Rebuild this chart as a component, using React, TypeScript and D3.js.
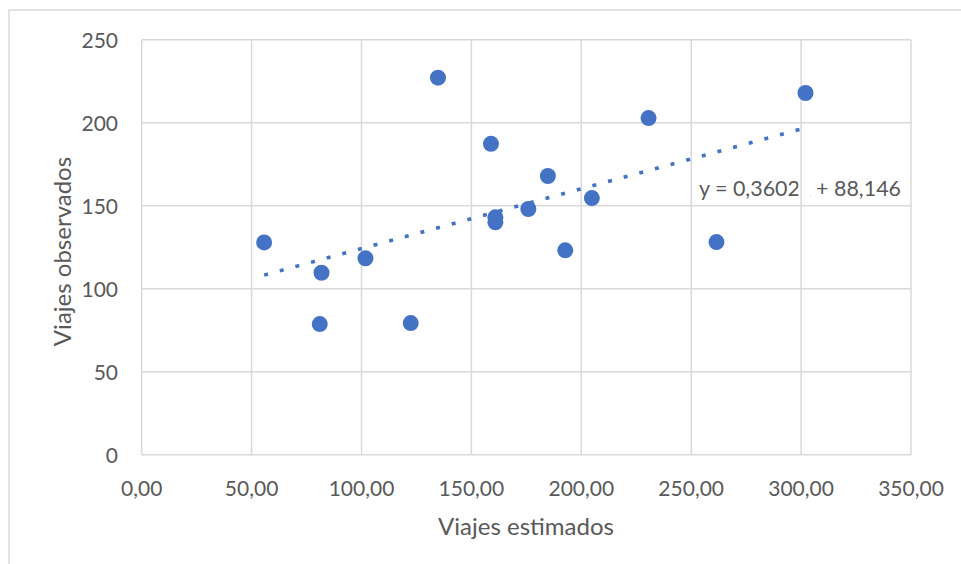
import React from "react";
import * as d3 from "d3";

const estimados = [55.7, 81.8, 81.0, 101.8, 122.4, 134.8, 158.9, 184.8, 175.9, 160.9, 160.9, 204.8, 192.7, 230.6, 261.5, 302.0];
const observados = [127.9, 109.6, 78.7, 118.3, 79.3, 227.1, 187.3, 167.9, 148.0, 143.0, 140.0, 154.6, 123.1, 202.8, 128.1, 217.9];
const xTicks = [0, 50, 100, 150, 200, 250, 300, 350];
const yTicks = [0, 50, 100, 150, 200, 250];
const slope = 0.3602;
const intercept = 88.146;
const xTitle = "Viajes estimados";
const yTitle = "Viajes observados";
const eqLabel = "y = 0,3602x + 88,146";

const W = 961;
const H = 564;
const FONT = "Lato, 'Open Sans', sans-serif";
const TXT = "#595959";
const GRID = "#d9d9d9";
const BLUE = "#4472c4";

export default function App() {
  const x = d3.scaleLinear().domain([0, 350]).range([141.7, 911]);
  const y = d3.scaleLinear().domain([0, 250]).range([454.7, 39.7]);
  const fmt = (v: number) => d3.format(".2f")(v).replace(".", ",");
  const xMin = d3.min(estimados) as number;
  const xMax = d3.max(estimados) as number;
  const line = d3.line<number>().x((d) => x(d)).y((d) => y(slope * d + intercept));

  const eqX = 699;
  const eqY = 196;

  return (
    <svg width={W} height={H} style={{ position: "absolute", left: 0, top: 0 }}>
      <rect x={0} y={0} width={W} height={H} fill="#fff" />
      <rect x={9} y={10} width={W + 20} height={H + 20} fill="#fff" stroke={GRID} strokeWidth={1.5} />
      {/* equation text (drawn beneath grid) */}
      <text x={eqX} y={eqY} fontFamily={FONT} fontSize={21.5} fill={TXT} textLength={202} lengthAdjust="spacingAndGlyphs">
        {eqLabel}
      </text>
      <rect x={798.5} y={176} width={11.5} height={26} fill="#fff" />
      {/* grid */}
      {yTicks.map((t) => (
        <line key={"gy" + t} x1={x(0)} x2={x(350)} y1={y(t)} y2={y(t)} stroke={GRID} strokeWidth={1.5} />
      ))}
      {xTicks.map((t) => (
        <line key={"gx" + t} x1={x(t)} x2={x(t)} y1={y(0)} y2={y(250)} stroke={GRID} strokeWidth={1.5} />
      ))}
      {/* tick labels */}
      {yTicks.map((t) => (
        <text key={"ly" + t} x={118} y={y(t) + 8} textAnchor="end" fontFamily={FONT} fontSize={21} fill={TXT}>
          {t}
        </text>
      ))}
      {xTicks.map((t) => (
        <text key={"lx" + t} x={x(t)} y={496} textAnchor="middle" fontFamily={FONT} fontSize={21} fill={TXT}>
          {fmt(t)}
        </text>
      ))}
      {/* titles */}
      <text x={526} y={535} textAnchor="middle" fontFamily={FONT} fontSize={24} fill={TXT}>
        {xTitle}
      </text>
      <text
        transform={`translate(71, 251.5) rotate(-90)`}
        textAnchor="middle"
        fontFamily={FONT}
        fontSize={24}
        fill={TXT}
      >
        {yTitle}
      </text>
      {/* points */}
      {estimados.map((v, i) => (
        <circle key={"p" + i} cx={x(v)} cy={y(observados[i])} r={8} fill={BLUE} />
      ))}
      {/* trendline */}
      <path d={line([xMin, xMax]) as string} fill="none" stroke={BLUE} strokeWidth={3.5} strokeDasharray="4 12.2" />
    </svg>
  );
}
